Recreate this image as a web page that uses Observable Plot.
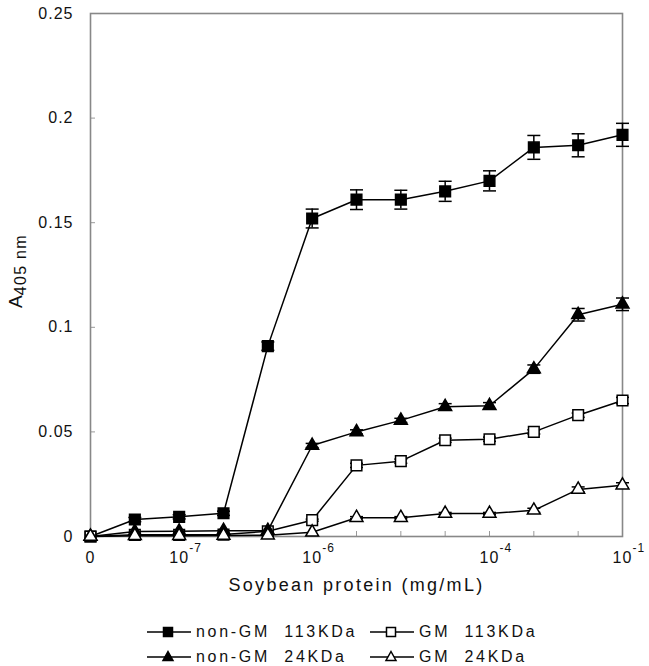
<!DOCTYPE html>
<html>
<head>
<meta charset="utf-8">
<script src="https://cdn.jsdelivr.net/npm/d3@7"></script>
<script src="https://cdn.jsdelivr.net/npm/@observablehq/plot@0.6"></script>
<style>
  body { margin: 0; background: #fff; font-family: "Liberation Sans", Arial, sans-serif; }
  #wrap { position: relative; width: 649px; height: 666px; }
  #ylab { position: absolute; left: 17px; top: 271px; transform: translate(-50%, -50%) rotate(-90deg);
          font-size: 19px; white-space: nowrap; color: #111; line-height: 1; }
  #ylab sub { font-size: 16px; vertical-align: -4px; letter-spacing: 1.3px; }
  .leg { position: absolute; display: flex; align-items: center; font-size: 16px; letter-spacing: 2.7px;
         white-space: pre; color: #111; height: 20px; }
  .leg svg { margin-right: 5px; }
</style>
</head>
<body>
<div id="wrap"></div>
<script>
// ---- data ----
const concIndex = [0, 1, 2, 3, 4, 5, 6, 7, 8, 9, 10, 11, 12];
const nonGM113 = [0, 0.0081, 0.0094, 0.0111, 0.091, 0.152, 0.161, 0.161, 0.165, 0.170, 0.186, 0.187, 0.192];
const nonGM113Err = [0, 0.001, 0.001, 0.001, 0.002, 0.0045, 0.0047, 0.0045, 0.0048, 0.0048, 0.0057, 0.0055, 0.0055];
const GM113 = [0, 0.0008, 0.0008, 0.0009, 0.0025, 0.0078, 0.034, 0.036, 0.046, 0.0465, 0.050, 0.058, 0.065];
const GM113Err = [0, 0, 0, 0, 0, 0.0005, 0.001, 0.001, 0.001, 0.001, 0.001, 0.001, 0.0015];
const nonGM24 = [0, 0.0024, 0.0025, 0.0028, 0.0028, 0.0435, 0.050, 0.0555, 0.062, 0.0625, 0.080, 0.106, 0.111];
const nonGM24Err = [0, 0, 0, 0, 0, 0.001, 0.001, 0.001, 0.0015, 0.0015, 0.002, 0.003, 0.003];
const GM24 = [0, 0.0004, 0.0004, 0.0005, 0.0006, 0.002, 0.009, 0.009, 0.011, 0.011, 0.0125, 0.0225, 0.0245];
const GM24Err = [0, 0, 0, 0, 0, 0, 0.0005, 0.0005, 0.0005, 0.0005, 0.001, 0.0012, 0.0012];

const seriesNames = ["non-GM 113KDa", "GM 113KDa", "non-GM 24KDa", "GM 24KDa"];
const seriesValues = [nonGM113, GM113, nonGM24, GM24];
const seriesErrors = [nonGM113Err, GM113Err, nonGM24Err, GM24Err];
const seriesSymbol = ["square", "square", "triangle", "triangle"];
const seriesFill = ["black", "white", "black", "white"];

const yTicks = [0, 0.05, 0.1, 0.15, 0.2, 0.25];
const yTickLabels = ["0", "0.05", "0.1", "0.15", "0.2", "0.25"];
const xLabelIndex = [0, 2, 5, 9, 12];
const xLabelBase = ["0", "10", "10", "10", "10"];
const xLabelExp = ["", "-7", "-6", "-4", "-1"];
const xTitle = "Soybean protein (mg/mL)";

// ---- build table ----
const rows = [];
seriesNames.forEach((name, s) => {
  concIndex.forEach((i, k) => {
    rows.push({series: name, s, i, v: seriesValues[s][k], e: seriesErrors[s][k],
               symbol: seriesSymbol[s], fill: seriesFill[s]});
  });
});
const errRows = rows.filter(d => d.e > 0);
const xLab = xLabelIndex.map((i, k) => ({i, base: xLabelBase[k], exp: xLabelExp[k]}));

const cap = {
  draw(context, size) {
    const w = Math.sqrt(size / Math.PI);
    context.moveTo(-w, 0);
    context.lineTo(w, 0);
  }
};

const chart = Plot.plot({
  width: 649,
  height: 610,
  marginLeft: 90,
  marginRight: 27,
  marginTop: 13,
  marginBottom: 74,
  style: {fontFamily: "'Liberation Sans', Arial, sans-serif", color: "#111", background: "white"},
  x: {type: "linear", domain: [0, 12], label: null},
  y: {type: "linear", domain: [0, 0.25], label: null},
  marks: [
    // tick marks (inside)
    Plot.axisY(yTicks, {tickSize: 5, dx: 5, tickFormat: () => "", label: null, stroke: "#999"}),
    Plot.axisX(concIndex, {tickSize: 5, dy: -5, tickFormat: () => "", label: null, stroke: "#999"}),
    // y tick labels
    Plot.axisY(yTicks, {tickSize: 0, tickPadding: 17, fontSize: 16, label: null,
      tickFormat: (d) => yTickLabels[yTicks.indexOf(d)]}),
    // x tick labels
    Plot.text(xLab, {x: "i", frameAnchor: "bottom", dy: 26, text: "base", fontSize: 16, fill: "#111"}),
    Plot.text(xLab, {x: "i", frameAnchor: "bottom", dy: 15, dx: 10, text: "exp", textAnchor: "start", fontSize: 12, fill: "#111"}),
    // x label
    Plot.text([xTitle], {frameAnchor: "bottom", dy: 54, text: d => d, fontSize: 18, fill: "#111"}),
    Plot.frame({stroke: "#888", strokeWidth: 1.6}),
    // lines
    Plot.line(rows, {x: "i", y: "v", z: "series", stroke: "black", strokeWidth: 1.5}),
    // error bars
    Plot.ruleX(errRows, {x: "i", y1: d => d.v - d.e, y2: d => d.v + d.e, stroke: "black", strokeWidth: 1.5}),
    Plot.dot(errRows, {x: "i", y: d => d.v + d.e, symbol: cap, r: 6.5, fill: "none", stroke: "black", strokeWidth: 1.5}),
    Plot.dot(errRows, {x: "i", y: d => d.v - d.e, symbol: cap, r: 6.5, fill: "none", stroke: "black", strokeWidth: 1.5}),
    // markers
    Plot.dot(rows.filter(d => d.symbol === "square"), {x: "i", y: "v", symbol: "square", r: 6, fill: "fill", stroke: "black", strokeWidth: 1.5}),
    Plot.dot(rows.filter(d => d.symbol === "triangle"), {x: "i", y: "v", symbol: "triangle", r: 4.8, fill: "fill", stroke: "black", strokeWidth: 1.5})
  ]
});

// letter spacing for text (the reference font is wide)
d3.select(chart).selectAll("text").each(function () {
  const t = this.textContent;
  if (t === xTitle) this.style.letterSpacing = "2.3px";
  else this.style.letterSpacing = "1px";
});

const wrap = document.getElementById("wrap");
wrap.appendChild(chart);

const ylab = document.createElement("div");
ylab.id = "ylab";
ylab.innerHTML = "A<sub>405 nm</sub>";
wrap.appendChild(ylab);

// legend
const legendPos = [[147, 622], [370, 622], [147, 647], [370, 647]];
seriesNames.forEach((name, s) => {
  const item = document.createElement("div");
  item.className = "leg";
  item.style.left = legendPos[s][0] + "px";
  item.style.top = legendPos[s][1] + "px";
  const sym = seriesSymbol[s] === "square"
    ? `<rect x="16.5" y="5.5" width="9" height="9" fill="${seriesFill[s]}" stroke="black" stroke-width="1.5"/>`
    : `<path d="M21,4.5 L26,13.5 L16,13.5 Z" fill="${seriesFill[s]}" stroke="black" stroke-width="1.5"/>`;
  item.innerHTML = `<svg width="44" height="20"><line x1="0" x2="44" y1="10" y2="10" stroke="black" stroke-width="1.5"/>${sym}</svg><span>${name.replace(" ", "  ")}</span>`;
  wrap.appendChild(item);
});
</script>
</body>
</html>
